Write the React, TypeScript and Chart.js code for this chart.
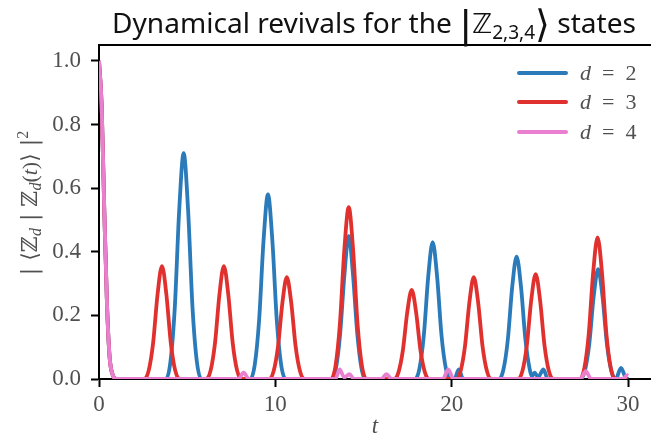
import React, { useEffect, useRef } from 'react';
import { Chart, registerables } from 'chart.js';

Chart.register(...registerables);

// ---- data ----
const seriesLabels = ['d = 2', 'd = 3', 'd = 4'];
const seriesColors = ['#2b7bba', '#e0312f', '#ea7fd0'];

// d = 2 : [t, |<Z_d|Z_d(t)>|^2]
const d2Points: [number, number][] = [
  [0, 1.0], [0.15, 0.86], [0.3, 0.53], [0.45, 0.24], [0.6, 0.07], [0.8, 0.01], [1.0, 0],
  [3.8, 0], [4.05, 0.054], [4.3, 0.227], [4.55, 0.533], [4.8, 0.71], [5.05, 0.533], [5.3, 0.227], [5.55, 0.054], [5.8, 0],
  [8.58, 0], [8.83, 0.044], [9.08, 0.186], [9.33, 0.435], [9.58, 0.58], [9.83, 0.435], [10.08, 0.186], [10.33, 0.044], [10.58, 0],
  [13.2, 0], [13.43, 0.032], [13.67, 0.14], [13.92, 0.33], [14.16, 0.45], [14.4, 0.33], [14.65, 0.14], [14.89, 0.032], [15.12, 0],
  [17.92, 0], [18.17, 0.033], [18.42, 0.138], [18.67, 0.323], [18.92, 0.43], [19.17, 0.323], [19.42, 0.138], [19.67, 0.033], [19.92, 0],
  [20.15, 0], [20.4, 0.03], [20.65, 0],
  [22.68, 0], [22.93, 0.029], [23.18, 0.123], [23.43, 0.289], [23.68, 0.385], [23.93, 0.289], [24.18, 0.123], [24.43, 0.029],
  [24.55, 0.008], [24.7, 0.02], [24.9, 0.006], [25.2, 0.03], [25.45, 0],
  [27.3, 0], [27.55, 0.026], [27.8, 0.11], [28.05, 0.259], [28.3, 0.345], [28.55, 0.259], [28.8, 0.11], [29.05, 0.026], [29.3, 0],
  [29.6, 0.035], [29.85, 0.005], [30, 0],
];

// d = 3
const d3Points: [number, number][] = [
  [0, 1.0], [0.15, 0.86], [0.3, 0.53], [0.45, 0.24], [0.6, 0.07], [0.8, 0.01], [1.0, 0],
  [2.57, 0], [2.82, 0.027], [3.07, 0.114], [3.32, 0.266], [3.57, 0.355], [3.82, 0.266], [4.07, 0.114], [4.32, 0.027], [4.57, 0],
  [6.08, 0], [6.33, 0.027], [6.58, 0.114], [6.83, 0.266], [7.08, 0.355], [7.33, 0.266], [7.58, 0.114], [7.83, 0.027], [8.08, 0],
  [9.65, 0], [9.9, 0.024], [10.15, 0.102], [10.4, 0.24], [10.65, 0.32], [10.9, 0.24], [11.15, 0.102], [11.4, 0.024], [11.65, 0],
  [13.16, 0], [13.41, 0.041], [13.66, 0.173], [13.91, 0.405], [14.16, 0.54], [14.41, 0.405], [14.66, 0.173], [14.91, 0.041], [15.16, 0],
  [16.73, 0], [16.98, 0.021], [17.23, 0.09], [17.48, 0.21], [17.73, 0.28], [17.98, 0.21], [18.23, 0.09], [18.48, 0.021], [18.73, 0],
  [20.25, 0], [20.5, 0.024], [20.75, 0.102], [21.0, 0.24], [21.25, 0.32], [21.5, 0.24], [21.75, 0.102], [22.0, 0.024], [22.25, 0],
  [23.76, 0], [24.01, 0.025], [24.26, 0.106], [24.51, 0.248], [24.76, 0.33], [25.01, 0.248], [25.26, 0.106], [25.51, 0.025], [25.76, 0],
  [27.27, 0], [27.52, 0.034], [27.77, 0.142], [28.02, 0.334], [28.27, 0.445], [28.52, 0.334], [28.77, 0.142], [29.02, 0.034], [29.27, 0],
  [30, 0],
];

// d = 4
const d4Points: [number, number][] = [
  [0, 1.0], [0.15, 0.86], [0.3, 0.53], [0.45, 0.24], [0.6, 0.07], [0.8, 0.01], [1.0, 0],
  [7.9, 0], [8.2, 0.02], [8.5, 0],
  [13.4, 0], [13.65, 0.03], [13.9, 0.005], [14.2, 0.015], [14.45, 0],
  [16.0, 0], [16.3, 0.015], [16.6, 0],
  [19.5, 0], [19.8, 0.03], [20.1, 0],
  [27.3, 0], [27.6, 0.025], [27.9, 0],
  [29.7, 0], [29.95, 0.012], [30, 0.01],
];

const xTickValues = [0, 10, 20, 30];
const yTickValues = [0, 0.2, 0.4, 0.6, 0.8, 1.0];
const X_MAX = 31.3;
const Y_MAX = 1.05;

const SERIF = "'Liberation Serif', 'DejaVu Serif', serif";
const MATHSERIF = "'DejaVu Serif', serif";
const SANS = "'Noto Sans', 'Open Sans', sans-serif";
const TEXT_GREY = '#505050';

type Seg = { text: string; font: string; dy?: number };

function segWidth(ctx: CanvasRenderingContext2D, segs: Seg[]) {
  let w = 0;
  for (const s of segs) {
    ctx.font = s.font;
    w += ctx.measureText(s.text).width;
  }
  return w;
}

function drawSegs(ctx: CanvasRenderingContext2D, segs: Seg[], x: number, y: number) {
  let cx = x;
  ctx.textBaseline = 'alphabetic';
  ctx.textAlign = 'left';
  for (const s of segs) {
    ctx.font = s.font;
    ctx.fillText(s.text, cx, y + (s.dy || 0));
    cx += ctx.measureText(s.text).width;
  }
}

const decorPlugin = {
  id: 'decor',
  afterDraw(chart: any) {
    const { ctx, chartArea } = chart;
    ctx.save();
    // top spine
    ctx.strokeStyle = '#000';
    ctx.lineWidth = 2;
    ctx.beginPath();
    ctx.moveTo(chartArea.left - 1, chartArea.top);
    ctx.lineTo(chartArea.right, chartArea.top);
    ctx.stroke();

    // legend
    const legendY = [73, 102, 132];
    seriesLabels.forEach((lab, i) => {
      ctx.strokeStyle = seriesColors[i];
      ctx.lineWidth = 4;
      ctx.lineCap = 'round';
      ctx.beginPath();
      ctx.moveTo(519, legendY[i]);
      ctx.lineTo(566, legendY[i]);
      ctx.stroke();
      ctx.fillStyle = TEXT_GREY;
      const parts = lab.split(' ');
      drawSegs(ctx, [
        { text: parts[0], font: `italic 22px ${SERIF}` },
        { text: '\u2002' + parts[1] + '\u2002', font: `22px ${SERIF}` },
        { text: parts[2], font: `22px ${SERIF}` },
      ], 580, legendY[i] + 7);
    });

    // title
    ctx.fillStyle = '#111';
    const titleSegs: Seg[] = [
      { text: 'Dynamical revivals for the ', font: `28px ${SANS}` },
      { text: '|', font: `38px 'DejaVu Sans', sans-serif`, dy: 4 },
      { text: 'ℤ', font: `27px 'DejaVu Sans', sans-serif` },
      { text: '2,3,4', font: `19px ${SANS}`, dy: 6 },
      { text: '⟩', font: `38px 'DejaVu Sans', sans-serif`, dy: 4 },
      { text: ' states', font: `28px ${SANS}` },
    ];
    const tw = segWidth(ctx, titleSegs);
    const sx = 524 / tw;
    ctx.save();
    ctx.translate(112, 33);
    ctx.scale(sx, 1);
    drawSegs(ctx, titleSegs, 0, 0);
    ctx.restore();

    // y axis title (rotated)
    ctx.fillStyle = TEXT_GREY;
    const ySegs: Seg[] = [
      { text: '|', font: `22px ${MATHSERIF}` },
      { text: ' ⟨', font: `22px ${MATHSERIF}` },
      { text: 'ℤ', font: `22px ${MATHSERIF}` },
      { text: 'd', font: `italic 16px ${SERIF}`, dy: 4 },
      { text: ' | ', font: `22px ${MATHSERIF}` },
      { text: 'ℤ', font: `22px ${MATHSERIF}` },
      { text: 'd', font: `italic 16px ${SERIF}`, dy: 4 },
      { text: '(', font: `22px ${SERIF}` },
      { text: 't', font: `italic 22px ${SERIF}` },
      { text: ')', font: `22px ${SERIF}` },
      { text: '⟩ ', font: `22px ${MATHSERIF}` },
      { text: '|', font: `22px ${MATHSERIF}` },
      { text: '2', font: `16px ${SERIF}`, dy: -9 },
    ];
    const yw = segWidth(ctx, ySegs);
    ctx.save();
    ctx.translate(37, 203 + yw / 2);
    ctx.rotate(-Math.PI / 2);
    drawSegs(ctx, ySegs, 0, 0);
    ctx.restore();

    // x axis title
    ctx.font = `italic 23px ${SERIF}`;
    ctx.textAlign = 'center';
    ctx.textBaseline = 'alphabetic';
    ctx.fillText('t', 375, 433);
    ctx.restore();
  },
};

export default function App() {
  const ref = useRef<HTMLCanvasElement>(null);
  useEffect(() => {
    const canvas = ref.current!;
    const mk = (pts: [number, number][]) => pts.map(([x, y]) => ({ x, y }));
    const chart = new Chart(canvas, {
      type: 'line',
      data: {
        datasets: [
          { label: seriesLabels[0], data: mk(d2Points), borderColor: seriesColors[0], order: 3 },
          { label: seriesLabels[1], data: mk(d3Points), borderColor: seriesColors[1], order: 2 },
          { label: seriesLabels[2], data: mk(d4Points), borderColor: seriesColors[2], order: 1 },
        ].map((d) => ({
          ...d,
          borderWidth: 3.8,
          pointRadius: 0,
          fill: false,
          cubicInterpolationMode: 'monotone' as const,
        })),
      },
      options: {
        animation: false,
        responsive: false,
        layout: { padding: { top: 45, right: 0, left: 0, bottom: 0 } },
        plugins: {
          legend: { display: false },
          title: { display: false },
          tooltip: { enabled: false },
        },
        scales: {
          x: {
            type: 'linear',
            min: 0,
            max: X_MAX,
            afterFit: (s: any) => { s.height = 66; },
            afterBuildTicks: (s: any) => { s.ticks = xTickValues.map((v) => ({ value: v })); },
            ticks: {
              font: { family: SERIF, size: 23 },
              color: TEXT_GREY,
              padding: 4,
              maxRotation: 0,
              autoSkip: false,
              callback: (v: any) => String(v),
            },
            grid: { display: true, drawOnChartArea: false, drawTicks: true, tickLength: 8, tickWidth: 2, tickColor: '#000' },
            border: { display: true, color: '#000', width: 2 },
          },
          y: {
            type: 'linear',
            min: 0,
            max: Y_MAX,
            afterFit: (s: any) => { s.width = 99; },
            afterBuildTicks: (s: any) => { s.ticks = yTickValues.map((v) => ({ value: v })); },
            ticks: {
              font: { family: SERIF, size: 23 },
              color: TEXT_GREY,
              padding: 10,
              autoSkip: false,
              callback: (v: any) => Number(v).toFixed(1),
            },
            grid: { display: true, drawOnChartArea: false, drawTicks: true, tickLength: 8, tickWidth: 2, tickColor: '#000' },
            border: { display: true, color: '#000', width: 2 },
          },
        },
      },
      plugins: [decorPlugin],
    });
    return () => chart.destroy();
  }, []);
  return (
    <div style={{ position: 'absolute', left: 0, top: 0, width: 651, height: 445, background: '#fff' }}>
      <canvas ref={ref} width={651} height={445} style={{ display: 'block', width: 651, height: 445 }} />
    </div>
  );
}
